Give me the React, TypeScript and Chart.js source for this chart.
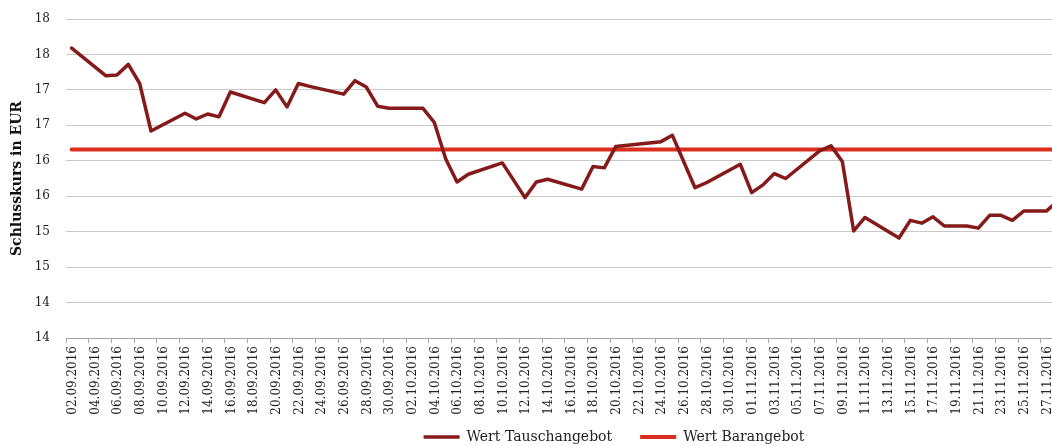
import React, { useEffect, useRef } from 'react';
import { Chart, registerables } from 'chart.js';

Chart.register(...registerables);

// ---- Data ----
const tradeDates = [
  '02.09.2016', '05.09.2016', '06.09.2016', '07.09.2016', '08.09.2016', '09.09.2016',
  '12.09.2016', '13.09.2016', '14.09.2016', '15.09.2016', '16.09.2016',
  '19.09.2016', '20.09.2016', '21.09.2016', '22.09.2016', '23.09.2016',
  '26.09.2016', '27.09.2016', '28.09.2016', '29.09.2016', '30.09.2016',
  '03.10.2016', '04.10.2016', '05.10.2016', '06.10.2016', '07.10.2016',
  '10.10.2016', '12.10.2016', '13.10.2016', '14.10.2016',
  '17.10.2016', '18.10.2016', '19.10.2016', '20.10.2016',
  '24.10.2016', '25.10.2016', '27.10.2016', '28.10.2016',
  '31.10.2016', '01.11.2016', '02.11.2016', '03.11.2016', '04.11.2016',
  '07.11.2016', '08.11.2016', '09.11.2016', '10.11.2016', '11.11.2016',
  '14.11.2016', '15.11.2016', '16.11.2016', '17.11.2016', '18.11.2016', '20.11.2016',
  '21.11.2016', '22.11.2016', '23.11.2016', '24.11.2016', '25.11.2016', '27.11.2016',
  '28.11.2016',
];
const tauschValues = [
  18.09, 17.70, 17.71, 17.86, 17.59, 16.92,
  17.17, 17.09, 17.16, 17.12, 17.47,
  17.32, 17.50, 17.26, 17.59, 17.55,
  17.44, 17.63, 17.54, 17.27, 17.24,
  17.24, 17.04, 16.53, 16.20, 16.31,
  16.47, 15.98, 16.20, 16.24,
  16.10, 16.42, 16.40, 16.70,
  16.77, 16.86, 16.12, 16.19,
  16.45, 16.05, 16.16, 16.32, 16.25,
  16.64, 16.71, 16.49, 15.51, 15.70,
  15.41, 15.66, 15.62, 15.71, 15.58, 15.58,
  15.55, 15.73, 15.73, 15.66, 15.79, 15.79,
  15.93,
];
const barDates = ['02.09.2016', '28.11.2016'];
const barValues = [16.66, 16.66];

const xTickLabels = [
  '02.09.2016', '04.09.2016', '06.09.2016', '08.09.2016', '10.09.2016', '12.09.2016',
  '14.09.2016', '16.09.2016', '18.09.2016', '20.09.2016', '22.09.2016', '24.09.2016',
  '26.09.2016', '28.09.2016', '30.09.2016', '02.10.2016', '04.10.2016', '06.10.2016',
  '08.10.2016', '10.10.2016', '12.10.2016', '14.10.2016', '16.10.2016', '18.10.2016',
  '20.10.2016', '22.10.2016', '24.10.2016', '26.10.2016', '28.10.2016', '30.10.2016',
  '01.11.2016', '03.11.2016', '05.11.2016', '07.11.2016', '09.11.2016', '11.11.2016',
  '13.11.2016', '15.11.2016', '17.11.2016', '19.11.2016', '21.11.2016', '23.11.2016',
  '25.11.2016', '27.11.2016',
];
const yTickValues = [14, 14.5, 15, 15.5, 16, 16.5, 17, 17.5, 18, 18.5];
const yTickLabels = ['14', '14', '15', '15', '16', '16', '17', '17', '18', '18'];

const seriesNames = ['Wert Tauschangebot', 'Wert Barangebot'];
const axisTitle = 'Schlusskurs in EUR';

// ---- Helpers ----
const firstDay = xTickLabels[0];
function toUTC(d: string): number {
  const [dd, mm, yy] = d.split('.').map(Number);
  return Date.UTC(yy, mm - 1, dd);
}
function dayIndex(d: string): number {
  return Math.round((toUTC(d) - toUTC(firstDay)) / 86400000);
}

const legendShift = {
  id: 'legendShift',
  afterLayout(chart: any) {
    const l = chart.legend;
    if (l) {
      l.left += 88;
      l.right += 88;
      l.top -= 16;
      l.bottom = chart.height;
      l.height = l.bottom - l.top;
    }
  },
};

export default function App() {
  const ref = useRef<HTMLCanvasElement | null>(null);

  useEffect(() => {
    document.body.style.margin = '0';
    if (!ref.current) return;
    const font = 'DejaVu Serif';
    Chart.defaults.font.family = font;
    Chart.defaults.color = '#222';

    const chart = new Chart(ref.current, {
      type: 'line',
      data: {
        datasets: [
          {
            label: seriesNames[0],
            data: tradeDates.map((d, i) => ({ x: dayIndex(d), y: tauschValues[i] })),
            borderColor: '#851a1a',
            backgroundColor: '#851a1a',
            borderWidth: 3.5,
            pointRadius: 0,
            tension: 0,
            borderJoinStyle: 'round',
            borderCapStyle: 'round',
          },
          {
            label: seriesNames[1],
            data: barDates.map((d, i) => ({ x: dayIndex(d), y: barValues[i] })),
            borderColor: '#dc2e1f',
            backgroundColor: '#dc2e1f',
            borderWidth: 4,
            pointRadius: 0,
            tension: 0,
            borderCapStyle: 'round',
          },
        ],
      },
      options: {
        animation: false,
        responsive: false,
        devicePixelRatio: 1,
        layout: { padding: { top: 19, left: 0, right: 0, bottom: 0 } },
        plugins: {
          tooltip: { enabled: false },
          legend: {
            position: 'bottom',
            maxHeight: 28,
            labels: {
              usePointStyle: true,
              pointStyle: 'line',
              pointStyleWidth: 36,
              padding: 28,
              color: '#222',
              font: { family: font, size: 14 },
            },
          },
        },
        scales: {
          x: {
            type: 'linear',
            min: -0.5,
            max: 86.5,
            afterBuildTicks: (s: any) => {
              s.ticks = xTickLabels.map((l) => ({ value: dayIndex(l) - 0.5 }));
            },
            afterFit: (s: any) => {
              s.height = 80;
              s.paddingLeft = 0;
              s.paddingRight = 0;
            },
            border: { display: true, color: '#a6a6a6', width: 1 },
            grid: {
              drawOnChartArea: false,
              drawTicks: true,
              tickLength: 5,
              color: '#a6a6a6',
            },
            ticks: {
              autoSkip: false,
              maxRotation: 90,
              minRotation: 90,
              labelOffset: 7,
              padding: 3,
              color: '#222',
              font: { family: font, size: 12 },
              callback: (_v: any, i: number) => xTickLabels[i],
            },
          },
          y: {
            type: 'linear',
            min: 14,
            max: 18.5,
            afterBuildTicks: (s: any) => {
              s.ticks = yTickValues.map((v) => ({ value: v }));
            },
            afterFit: (s: any) => {
              s.width = 66;
              s.paddingTop = 0;
              s.paddingBottom = 0;
            },
            border: { display: false },
            grid: { color: '#c9c9c9', lineWidth: 1, drawTicks: false },
            ticks: {
              padding: 16,
              color: '#222',
              font: { family: font, size: 12 },
              callback: (_v: any, i: number) => yTickLabels[i],
            },
            title: {
              display: true,
              text: axisTitle,
              color: '#111',
              font: { family: font, size: 14, weight: 'bold' },
              padding: { top: 9, bottom: 0 },
            },
          },
        },
      },
      plugins: [legendShift],
    } as any);

    return () => chart.destroy();
  }, []);

  return (
    <div style={{ width: 1052, height: 446, overflow: 'hidden', position: 'relative' }}>
      <canvas ref={ref} width={1052} height={446} style={{ display: 'block' }} />
    </div>
  );
}
